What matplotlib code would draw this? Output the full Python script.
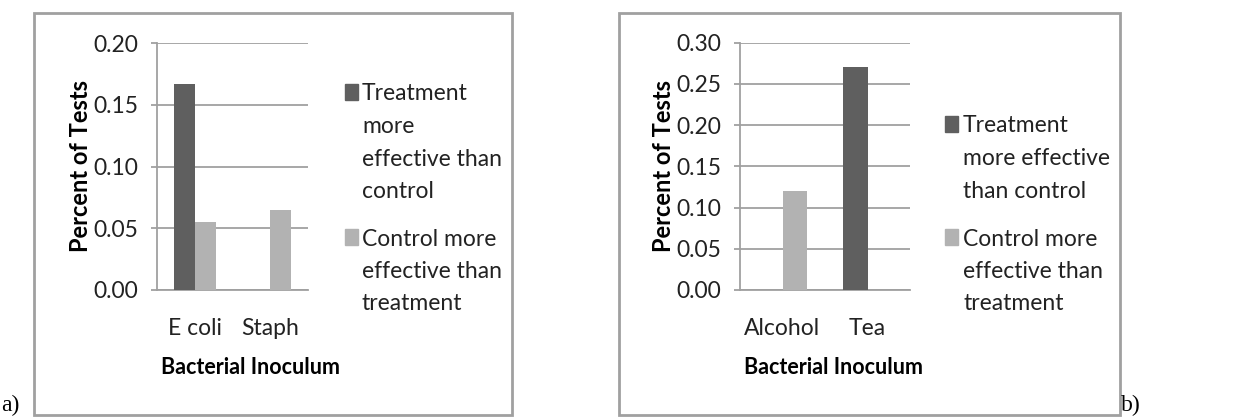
import matplotlib
matplotlib.use('Agg')
import numpy as np
import matplotlib.pyplot as plt
from matplotlib.patches import Rectangle

# data
cats_a = ['E coli', 'Staph']
treat_a = [0.167, 0.0]
ctrl_a = [0.055, 0.065]

cats_b = ['Alcohol', 'Tea']
treat_b = [0.0, 0.271]
ctrl_b = [0.12, 0.0]

lab_treat_a = ['Treatment', 'more', 'effective than', 'control']
lab_treat_b = ['Treatment', 'more effective', 'than control']
lab_ctrl = ['Control more', 'effective than', 'treatment']

dark = '#5f5f5f'
light = '#b2b2b2'
grid = '#a0a0a0'
txt = '#222222'

plt.rcParams['font.family'] = ['Lato', 'DejaVu Sans']

W, H = 1243, 417
fig = plt.figure(figsize=(W / 100, H / 100), dpi=100)


def px_axes(x0, y0, x1, y1):
    # x0,y0 top-left pixel, x1,y1 bottom-right pixel
    return fig.add_axes([x0 / W, 1 - y1 / H, (x1 - x0) / W, (y1 - y0) / H])


def draw_panel(ax, cats, treat, ctrl, ymax, gap, xlab_x):
    x = np.arange(len(cats))
    w = (1 - gap) / 2
    ax.bar(x - w / 2, treat, w, color=dark, zorder=3)
    ax.bar(x + w / 2, ctrl, w, color=light, zorder=3)
    ax.set_xlim(-0.5, len(cats) - 0.5)
    ax.set_ylim(0, ymax)
    ax.set_yticks(np.arange(0, ymax + 0.001, 0.05))
    ax.yaxis.set_major_formatter(matplotlib.ticker.FormatStrFormatter('%.2f'))
    ax.set_xticks(x)
    ax.set_xticklabels(cats)
    ax.yaxis.grid(True, color=grid, lw=1.3, zorder=0)
    for s in ['top', 'right']:
        ax.spines[s].set_visible(False)
    for s in ['left', 'bottom']:
        ax.spines[s].set_color(grid)
        ax.spines[s].set_linewidth(1.3)
    ax.tick_params(axis='y', length=4.5, color=grid, width=1.3, pad=9, labelsize=16.5, labelcolor=txt)
    ax.tick_params(axis='x', length=0, pad=20, labelsize=16.5, labelcolor=txt)
    ax.set_ylabel('Percent of Tests', fontsize=17, fontweight='bold', labelpad=1)
    ax.set_xlabel('Bacterial Inoculum', fontsize=15.5, fontweight='bold')
    ax.xaxis.set_label_coords(xlab_x, -0.27)


ax_a = px_axes(157, 43, 308, 290)
draw_panel(ax_a, cats_a, treat_a, ctrl_a, 0.20, 0.44, 0.62)
ax_b = px_axes(740, 42.7, 910, 290)
draw_panel(ax_b, cats_b, treat_b, ctrl_b, 0.30, 0.42, 0.55)

# outer frames
fig.patches.append(Rectangle((34 / W, 1 - 415 / H), (512 - 34) / W, (415 - 13) / H,
                             transform=fig.transFigure, fill=False, ec=grid, lw=2))
fig.patches.append(Rectangle((619 / W, 1 - 415 / H), (1120 - 619) / W, (415 - 13) / H,
                             transform=fig.transFigure, fill=False, ec=grid, lw=2))


# legends drawn by hand, one text per wrapped line
def legend(xsq, xtxt, entries, step=32.5):
    for (ymid, color, lines) in entries:
        fig.patches.append(Rectangle((xsq / W, 1 - (ymid + 8) / H), 13 / W, 16 / H,
                                     transform=fig.transFigure, color=color))
        for i, line in enumerate(lines):
            fig.text(xtxt / W, 1 - (ymid + 2 + i * step) / H, line, fontsize=16.5,
                     va='center', ha='left', color=txt)


legend(345, 362, [(92, dark, lab_treat_a), (237, light, lab_ctrl)])
legend(945, 963, [(124, dark, lab_treat_b), (237, light, lab_ctrl)])

fig.text(1 / W, 1 / H, 'a)', family='Liberation Serif', fontsize=17, va='bottom', ha='left')
fig.text(1121 / W, 1 / H, 'b)', family='Liberation Serif', fontsize=17, va='bottom', ha='left')

fig.savefig('out.png', dpi=100)
